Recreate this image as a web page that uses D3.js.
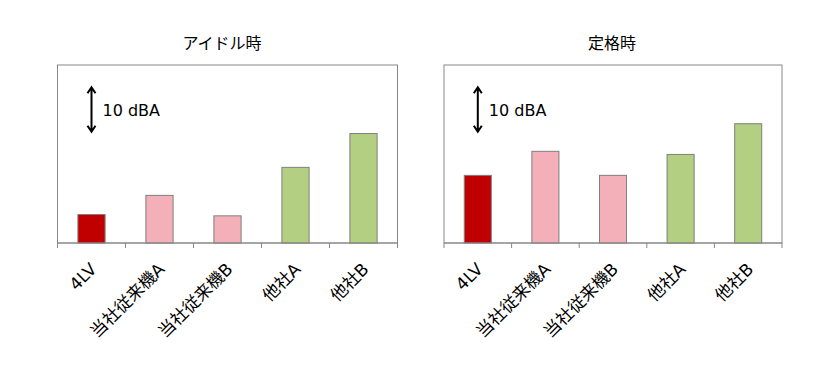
<!DOCTYPE html>
<html>
<head>
<meta charset="utf-8">
<script src="https://cdn.jsdelivr.net/npm/d3@7"></script>
<style>
  body { margin: 0; background: #fff; }
  text { font-family: "DejaVu Sans", "Noto Sans CJK JP", sans-serif; fill: #000; }
</style>
</head>
<body>
<script>
// machines on the x axis
var categories = ['4LV', '当社従来機A', '当社従来機B', '他社A', '他社B'];
// noise level above chart baseline (dBA, relative)
var idleValues = [6.4, 10.7, 6.1, 17.0, 24.6];
var ratedValues = [15.2, 20.6, 15.2, 19.9, 26.8];
var titles = ['アイドル時', '定格時'];
var barColors = ['#c00000', '#f4b0b9', '#f4b0b9', '#b3cf82', '#b3cf82'];
var arrowRange = [25, 35];   // the "10 dBA" reference arrow
var arrowLabel = '10 dBA';

var width = 838, height = 370,
    plotTop = 65, plotBottom = 243;

var panels = [
  {title: titles[0], values: idleValues, x0: 57.5, x1: 397.5, titleX: 222},
  {title: titles[1], values: ratedValues, x0: 444, x1: 782, titleX: 612}
];

var svg = d3.select('body')
  .append('svg')
    .attr('width', width)
    .attr('height', height);

var y_scale = d3.scaleLinear()
  .domain([0, 40])
  .range([plotBottom, plotTop]);

panels.forEach(function(p) {
  var x_scale = d3.scaleBand()
    .domain(categories)
    .range([p.x0, p.x1])
    .paddingInner(0.6)
    .paddingOuter(0.3);

  var g = svg.append('g');

  // plot frame
  g.append('rect')
    .attr('x', p.x0)
    .attr('y', plotTop)
    .attr('width', p.x1 - p.x0)
    .attr('height', plotBottom - plotTop)
    .attr('fill', 'none')
    .attr('stroke', '#878787')
    .attr('stroke-width', 1);

  g.append('text')
    .text(p.title)
    .attr('x', p.titleX)
    .attr('y', 49)
    .attr('text-anchor', 'middle')
    .style('font-size', '16px');

  g.selectAll('rect.bar')
    .data(p.values)
    .enter()
    .append('rect')
      .attr('class', 'bar')
      .attr('x', function(d, i) { return x_scale(categories[i]); })
      .attr('y', function(d) { return y_scale(d); })
      .attr('width', x_scale.bandwidth())
      .attr('height', function(d) { return plotBottom - y_scale(d); })
      .attr('fill', function(d, i) { return barColors[i]; })
      .attr('stroke', '#7f7f7f')
      .attr('stroke-width', 1);

  // category ticks sit between bars
  var step = x_scale.step();
  var ticks = categories.map(function(c) { return x_scale(c) - (step - x_scale.bandwidth()) / 2; });
  ticks.push(p.x1);
  g.selectAll('line.tick')
    .data(ticks)
    .enter()
    .append('line')
      .attr('x1', function(d) { return d; })
      .attr('x2', function(d) { return d; })
      .attr('y1', plotBottom)
      .attr('y2', plotBottom + 5)
      .attr('stroke', '#878787');

  g.append('line')
    .attr('x1', p.x0).attr('x2', p.x1)
    .attr('y1', plotBottom).attr('y2', plotBottom)
    .attr('stroke', '#878787');

  g.selectAll('text.label')
    .data(categories)
    .enter()
    .append('text')
      .attr('class', 'label')
      .text(function(d) { return d; })
      .attr('text-anchor', 'end')
      .attr('dy', '0.35em')
      .attr('transform', function(d) {
        return 'translate(' + (x_scale(d) + x_scale.bandwidth() / 2 + 2) + ',' + 266 + ') rotate(-45)';
      })
      .style('font-size', '17px');

  // 10 dBA arrow
  var ax = x_scale(categories[0]) + x_scale.bandwidth() / 2,
      ya = y_scale(arrowRange[1]),
      yb = y_scale(arrowRange[0]);
  g.append('path')
    .attr('d', 'M' + ax + ',' + ya + 'V' + yb +
               'M' + (ax - 4) + ',' + (ya + 6) + 'L' + ax + ',' + ya + 'L' + (ax + 4) + ',' + (ya + 6) +
               'M' + (ax - 4) + ',' + (yb - 6) + 'L' + ax + ',' + yb + 'L' + (ax + 4) + ',' + (yb - 6))
    .attr('fill', 'none')
    .attr('stroke', '#000')
    .attr('stroke-width', 2);

  g.append('text')
    .text(arrowLabel)
    .attr('x', ax + 11)
    .attr('y', (ya + yb) / 2 + 6)
    .style('font-size', '16px');
});
</script>
</body>
</html>
